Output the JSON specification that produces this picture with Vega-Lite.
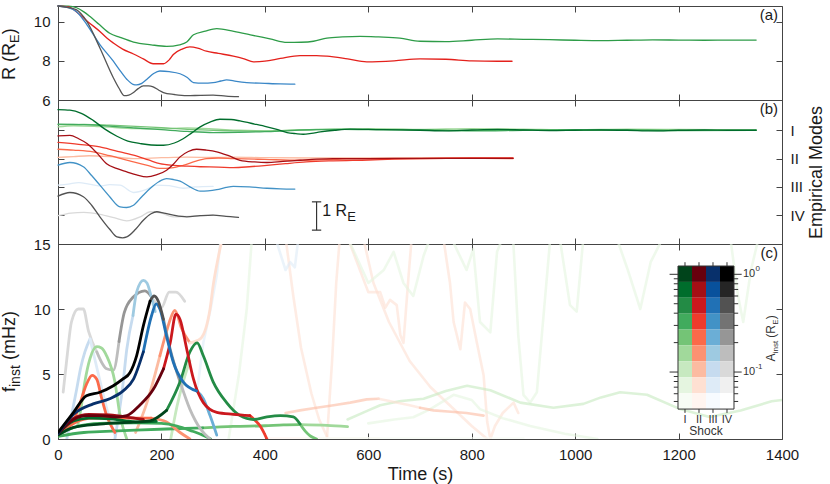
{
  "$schema": "https://vega.github.io/schema/vega-lite/v6.json",
  "background": "white",
  "padding": {"left": 0, "top": 4, "right": 0, "bottom": 0},
  "spacing": 0,
  "bounds": "flush",
  "config": {
    "font": "Liberation Sans",
    "view": {"stroke": "#444444", "strokeWidth": 1},
    "axis": {
      "domain": false, "grid": false, "tickSize": -6, "tickColor": "#444444", "tickWidth": 1,
      "labelFont": "Liberation Sans", "labelFontSize": 15, "labelColor": "#1a1a1a", "labelPadding": 14,
      "labelFlush": false, "labelOverlap": false,
      "titleFont": "Liberation Sans", "titleFontSize": 18, "titleFontWeight": "normal", "titleColor": "#1a1a1a"
    },
    "legend": {"disable": true},
    "text": {"font": "Liberation Sans", "color": "#1a1a1a"},
    "line": {"strokeCap": "round", "strokeJoin": "round"}
  },
  "datasets": {
    "radius": [
      {"c":"Ga","t":0,"r":10.8},{"c":"Ga","t":20,"r":10.79},{"c":"Ga","t":36,"r":10.71},{"c":"Ga","t":50,"r":10.5},{"c":"Ga","t":62,"r":10.26},{"c":"Ga","t":80,"r":9.85},{"c":"Ga","t":100,"r":9.41},{"c":"Ga","t":120,"r":9.2},{"c":"Ga","t":146,"r":8.96},{"c":"Ga","t":180,"r":8.82},{"c":"Ga","t":210,"r":8.74},{"c":"Ga","t":235,"r":8.82},{"c":"Ga","t":249,"r":8.96},{"c":"Ga","t":262,"r":9.33},{"c":"Ga","t":285,"r":9.52},{"c":"Ga","t":307,"r":9.64},{"c":"Ga","t":340,"r":9.5},{"c":"Ga","t":372,"r":9.33},{"c":"Ga","t":410,"r":9.12},{"c":"Ga","t":443,"r":8.94},{"c":"Ga","t":470,"r":8.95},{"c":"Ga","t":494,"r":9.0},{"c":"Ga","t":520,"r":9.16},{"c":"Ga","t":550,"r":9.22},{"c":"Ga","t":584,"r":9.25},{"c":"Ga","t":620,"r":9.22},{"c":"Ga","t":661,"r":9.16},{"c":"Ga","t":700,"r":9.0},{"c":"Ga","t":750,"r":8.98},{"c":"Ga","t":800,"r":9.05},{"c":"Ga","t":850,"r":9.12},{"c":"Ga","t":900,"r":9.1},{"c":"Ga","t":950,"r":9.08},{"c":"Ga","t":1000,"r":9.05},{"c":"Ga","t":1050,"r":9.03},{"c":"Ga","t":1100,"r":9.05},{"c":"Ga","t":1150,"r":9.07},{"c":"Ga","t":1200,"r":9.06},{"c":"Ga","t":1250,"r":9.05},{"c":"Ga","t":1300,"r":9.06},{"c":"Ga","t":1350,"r":9.06},
      {"c":"Ra","t":0,"r":10.8},{"c":"Ra","t":20,"r":10.75},{"c":"Ra","t":43,"r":10.34},{"c":"Ra","t":60,"r":9.95},{"c":"Ra","t":81,"r":9.5},{"c":"Ra","t":95,"r":9.15},{"c":"Ra","t":107,"r":8.91},{"c":"Ra","t":125,"r":8.6},{"c":"Ra","t":146,"r":8.35},{"c":"Ra","t":165,"r":8.1},{"c":"Ra","t":184,"r":7.85},{"c":"Ra","t":204,"r":7.85},{"c":"Ra","t":215,"r":8.05},{"c":"Ra","t":223,"r":8.32},{"c":"Ra","t":240,"r":8.6},{"c":"Ra","t":255,"r":8.71},{"c":"Ra","t":270,"r":8.65},{"c":"Ra","t":287,"r":8.49},{"c":"Ra","t":310,"r":8.38},{"c":"Ra","t":339,"r":8.24},{"c":"Ra","t":360,"r":8.1},{"c":"Ra","t":378,"r":7.95},{"c":"Ra","t":400,"r":7.98},{"c":"Ra","t":430,"r":8.12},{"c":"Ra","t":468,"r":8.27},{"c":"Ra","t":500,"r":8.27},{"c":"Ra","t":520,"r":8.24},{"c":"Ra","t":560,"r":8.1},{"c":"Ra","t":597,"r":7.95},{"c":"Ra","t":650,"r":8.0},{"c":"Ra","t":700,"r":8.1},{"c":"Ra","t":750,"r":8.08},{"c":"Ra","t":800,"r":8.0},{"c":"Ra","t":850,"r":7.98},{"c":"Ra","t":878,"r":7.98},
      {"c":"Ba","t":0,"r":10.8},{"c":"Ba","t":20,"r":10.72},{"c":"Ba","t":36,"r":10.51},{"c":"Ba","t":56,"r":9.84},{"c":"Ba","t":81,"r":8.83},{"c":"Ba","t":107,"r":7.98},{"c":"Ba","t":120,"r":7.5},{"c":"Ba","t":133,"r":7.06},{"c":"Ba","t":145,"r":6.8},{"c":"Ba","t":152,"r":6.77},{"c":"Ba","t":162,"r":6.85},{"c":"Ba","t":172,"r":7.06},{"c":"Ba","t":185,"r":7.35},{"c":"Ba","t":197,"r":7.48},{"c":"Ba","t":215,"r":7.45},{"c":"Ba","t":236,"r":7.34},{"c":"Ba","t":250,"r":7.15},{"c":"Ba","t":262,"r":6.89},{"c":"Ba","t":280,"r":6.86},{"c":"Ba","t":300,"r":6.89},{"c":"Ba","t":315,"r":6.97},{"c":"Ba","t":326,"r":7.03},{"c":"Ba","t":345,"r":6.95},{"c":"Ba","t":365,"r":6.89},{"c":"Ba","t":400,"r":6.85},{"c":"Ba","t":430,"r":6.82},{"c":"Ba","t":458,"r":6.81},
      {"c":"Ka","t":0,"r":10.8},{"c":"Ka","t":20,"r":10.72},{"c":"Ka","t":36,"r":10.6},{"c":"Ka","t":56,"r":10.0},{"c":"Ka","t":81,"r":8.66},{"c":"Ka","t":107,"r":7.14},{"c":"Ka","t":118,"r":6.6},{"c":"Ka","t":128,"r":6.22},{"c":"Ka","t":137,"r":6.25},{"c":"Ka","t":146,"r":6.38},{"c":"Ka","t":155,"r":6.58},{"c":"Ka","t":165,"r":6.72},{"c":"Ka","t":175,"r":6.72},{"c":"Ka","t":184,"r":6.67},{"c":"Ka","t":195,"r":6.5},{"c":"Ka","t":204,"r":6.38},{"c":"Ka","t":225,"r":6.28},{"c":"Ka","t":249,"r":6.22},{"c":"Ka","t":275,"r":6.24},{"c":"Ka","t":300,"r":6.25},{"c":"Ka","t":325,"r":6.2},{"c":"Ka","t":349,"r":6.17}
    ],
    "modes": [
      {"id":"m12","c":"K7","t":0,"y":-3.02},{"id":"m12","c":"K7","t":25,"y":-2.93},{"id":"m12","c":"K7","t":50,"y":-2.9},{"id":"m12","c":"K7","t":81,"y":-2.97},{"id":"m12","c":"K7","t":110,"y":-3.1},{"id":"m12","c":"K7","t":133,"y":-3.2},{"id":"m12","c":"K7","t":160,"y":-3.05},{"id":"m12","c":"K7","t":178,"y":-2.88},{"id":"m12","c":"K7","t":200,"y":-2.93},{"id":"m12","c":"K7","t":223,"y":-3.06},{"id":"m12","c":"K7","t":250,"y":-3.04},{"id":"m12","c":"K7","t":300,"y":-3.0},
      {"id":"m10","c":"B8","t":0,"y":-1.94},{"id":"m10","c":"B8","t":20,"y":-1.9},{"id":"m10","c":"B8","t":40,"y":-1.85},{"id":"m10","c":"B8","t":60,"y":-1.9},{"id":"m10","c":"B8","t":81,"y":-1.97},{"id":"m10","c":"B8","t":100,"y":-1.92},{"id":"m10","c":"B8","t":120,"y":-1.94},{"id":"m10","c":"B8","t":146,"y":-2.2},{"id":"m10","c":"B8","t":170,"y":-2.1},{"id":"m10","c":"B8","t":190,"y":-1.94},{"id":"m10","c":"B8","t":215,"y":-1.96},{"id":"m10","c":"B8","t":242,"y":-2.05},{"id":"m10","c":"B8","t":265,"y":-2.0},{"id":"m10","c":"B8","t":300,"y":-1.98},
      {"id":"m8","c":"R7","t":0,"y":-0.96},{"id":"m8","c":"R7","t":30,"y":-0.93},{"id":"m8","c":"R7","t":60,"y":-0.9},{"id":"m8","c":"R7","t":100,"y":-0.93},{"id":"m8","c":"R7","t":146,"y":-1.0},{"id":"m8","c":"R7","t":200,"y":-0.97},{"id":"m8","c":"R7","t":250,"y":-0.95},{"id":"m8","c":"R7","t":300,"y":-0.96},{"id":"m8","c":"R7","t":339,"y":-0.95},{"id":"m8","c":"R7","t":400,"y":-0.97},{"id":"m8","c":"R7","t":500,"y":-0.98},{"id":"m8","c":"R7","t":600,"y":-0.98},{"id":"m8","c":"R7","t":700,"y":-0.97},{"id":"m8","c":"R7","t":880,"y":-0.98},
      {"id":"m4","c":"G6","t":0,"y":0.12},{"id":"m4","c":"G6","t":30,"y":0.16},{"id":"m4","c":"G6","t":80,"y":0.13},{"id":"m4","c":"G6","t":150,"y":0.06},{"id":"m4","c":"G6","t":200,"y":0.05},{"id":"m4","c":"G6","t":250,"y":0.08},{"id":"m4","c":"G6","t":300,"y":0.05},{"id":"m4","c":"G6","t":350,"y":0.0},{"id":"m4","c":"G6","t":400,"y":-0.02},{"id":"m4","c":"G6","t":500,"y":0.02},{"id":"m4","c":"G6","t":600,"y":0.05},{"id":"m4","c":"G6","t":700,"y":0.03},{"id":"m4","c":"G6","t":800,"y":0.06},{"id":"m4","c":"G6","t":900,"y":0.04},{"id":"m4","c":"G6","t":1000,"y":0.02},{"id":"m4","c":"G6","t":1100,"y":0.04},{"id":"m4","c":"G6","t":1200,"y":0.03},{"id":"m4","c":"G6","t":1350,"y":0.01},
      {"id":"m3","c":"G5","t":0,"y":0.2},{"id":"m3","c":"G5","t":50,"y":0.21},{"id":"m3","c":"G5","t":100,"y":0.18},{"id":"m3","c":"G5","t":150,"y":0.14},{"id":"m3","c":"G5","t":200,"y":0.09},{"id":"m3","c":"G5","t":250,"y":0.03},{"id":"m3","c":"G5","t":300,"y":0.0},{"id":"m3","c":"G5","t":350,"y":-0.02},{"id":"m3","c":"G5","t":400,"y":-0.03},{"id":"m3","c":"G5","t":450,"y":0.0},{"id":"m3","c":"G5","t":500,"y":0.03},{"id":"m3","c":"G5","t":600,"y":0.04},{"id":"m3","c":"G5","t":700,"y":0.02},{"id":"m3","c":"G5","t":800,"y":0.0},{"id":"m3","c":"G5","t":900,"y":0.02},{"id":"m3","c":"G5","t":1000,"y":0.0},{"id":"m3","c":"G5","t":1100,"y":0.02},{"id":"m3","c":"G5","t":1200,"y":0.0},{"id":"m3","c":"G5","t":1350,"y":0.0},
      {"id":"m2","c":"G4","t":0,"y":0.22},{"id":"m2","c":"G4","t":50,"y":0.2},{"id":"m2","c":"G4","t":100,"y":0.15},{"id":"m2","c":"G4","t":150,"y":0.08},{"id":"m2","c":"G4","t":200,"y":0.02},{"id":"m2","c":"G4","t":250,"y":-0.04},{"id":"m2","c":"G4","t":300,"y":-0.08},{"id":"m2","c":"G4","t":350,"y":-0.07},{"id":"m2","c":"G4","t":400,"y":-0.05},{"id":"m2","c":"G4","t":450,"y":-0.01},{"id":"m2","c":"G4","t":500,"y":0.02},{"id":"m2","c":"G4","t":550,"y":0.03},{"id":"m2","c":"G4","t":600,"y":0.02},{"id":"m2","c":"G4","t":700,"y":0.01},{"id":"m2","c":"G4","t":800,"y":-0.02},{"id":"m2","c":"G4","t":900,"y":0.0},{"id":"m2","c":"G4","t":1000,"y":0.02},{"id":"m2","c":"G4","t":1100,"y":0.01},{"id":"m2","c":"G4","t":1200,"y":-0.01},{"id":"m2","c":"G4","t":1350,"y":0.0},
      {"id":"m7","c":"R5","t":0,"y":-0.67},{"id":"m7","c":"R5","t":30,"y":-0.7},{"id":"m7","c":"R5","t":68,"y":-0.76},{"id":"m7","c":"R5","t":100,"y":-0.9},{"id":"m7","c":"R5","t":146,"y":-1.12},{"id":"m7","c":"R5","t":175,"y":-1.25},{"id":"m7","c":"R5","t":197,"y":-1.35},{"id":"m7","c":"R5","t":220,"y":-1.33},{"id":"m7","c":"R5","t":242,"y":-1.24},{"id":"m7","c":"R5","t":265,"y":-1.1},{"id":"m7","c":"R5","t":287,"y":-1.0},{"id":"m7","c":"R5","t":310,"y":-0.98},{"id":"m7","c":"R5","t":339,"y":-1.0},{"id":"m7","c":"R5","t":400,"y":-1.03},{"id":"m7","c":"R5","t":468,"y":-1.06},{"id":"m7","c":"R5","t":520,"y":-1.04},{"id":"m7","c":"R5","t":600,"y":-1.0},{"id":"m7","c":"R5","t":700,"y":-1.0},{"id":"m7","c":"R5","t":800,"y":-0.99},{"id":"m7","c":"R5","t":880,"y":-1.0},
      {"id":"m6","c":"R4","t":0,"y":-0.43},{"id":"m6","c":"R4","t":40,"y":-0.5},{"id":"m6","c":"R4","t":81,"y":-0.59},{"id":"m6","c":"R4","t":110,"y":-0.72},{"id":"m6","c":"R4","t":146,"y":-0.88},{"id":"m6","c":"R4","t":175,"y":-1.05},{"id":"m6","c":"R4","t":197,"y":-1.18},{"id":"m6","c":"R4","t":223,"y":-1.24},{"id":"m6","c":"R4","t":250,"y":-1.27},{"id":"m6","c":"R4","t":275,"y":-1.29},{"id":"m6","c":"R4","t":310,"y":-1.3},{"id":"m6","c":"R4","t":339,"y":-1.32},{"id":"m6","c":"R4","t":370,"y":-1.29},{"id":"m6","c":"R4","t":404,"y":-1.24},{"id":"m6","c":"R4","t":440,"y":-1.18},{"id":"m6","c":"R4","t":480,"y":-1.12},{"id":"m6","c":"R4","t":532,"y":-1.08},{"id":"m6","c":"R4","t":600,"y":-1.05},{"id":"m6","c":"R4","t":650,"y":-1.02},{"id":"m6","c":"R4","t":700,"y":-1.0},{"id":"m6","c":"R4","t":800,"y":-0.98},{"id":"m6","c":"R4","t":880,"y":-0.98},
      {"id":"m5","c":"R2","t":0,"y":-0.2},{"id":"m5","c":"R2","t":23,"y":-0.18},{"id":"m5","c":"R2","t":40,"y":-0.3},{"id":"m5","c":"R2","t":56,"y":-0.47},{"id":"m5","c":"R2","t":75,"y":-0.8},{"id":"m5","c":"R2","t":94,"y":-1.18},{"id":"m5","c":"R2","t":113,"y":-1.35},{"id":"m5","c":"R2","t":133,"y":-1.47},{"id":"m5","c":"R2","t":152,"y":-1.58},{"id":"m5","c":"R2","t":172,"y":-1.65},{"id":"m5","c":"R2","t":190,"y":-1.58},{"id":"m5","c":"R2","t":210,"y":-1.41},{"id":"m5","c":"R2","t":223,"y":-1.2},{"id":"m5","c":"R2","t":236,"y":-0.94},{"id":"m5","c":"R2","t":252,"y":-0.75},{"id":"m5","c":"R2","t":268,"y":-0.67},{"id":"m5","c":"R2","t":287,"y":-0.7},{"id":"m5","c":"R2","t":307,"y":-0.76},{"id":"m5","c":"R2","t":330,"y":-0.9},{"id":"m5","c":"R2","t":352,"y":-1.06},{"id":"m5","c":"R2","t":380,"y":-1.12},{"id":"m5","c":"R2","t":404,"y":-1.14},{"id":"m5","c":"R2","t":435,"y":-1.1},{"id":"m5","c":"R2","t":468,"y":-1.06},{"id":"m5","c":"R2","t":500,"y":-1.02},{"id":"m5","c":"R2","t":532,"y":-1.0},{"id":"m5","c":"R2","t":600,"y":-1.0},{"id":"m5","c":"R2","t":700,"y":-0.99},{"id":"m5","c":"R2","t":800,"y":-0.99},{"id":"m5","c":"R2","t":880,"y":-0.99},
      {"id":"m1","c":"G2","t":0,"y":0.73},{"id":"m1","c":"G2","t":23,"y":0.71},{"id":"m1","c":"G2","t":45,"y":0.6},{"id":"m1","c":"G2","t":68,"y":0.35},{"id":"m1","c":"G2","t":90,"y":0.05},{"id":"m1","c":"G2","t":114,"y":-0.21},{"id":"m1","c":"G2","t":135,"y":-0.38},{"id":"m1","c":"G2","t":159,"y":-0.47},{"id":"m1","c":"G2","t":180,"y":-0.52},{"id":"m1","c":"G2","t":204,"y":-0.53},{"id":"m1","c":"G2","t":225,"y":-0.45},{"id":"m1","c":"G2","t":242,"y":-0.3},{"id":"m1","c":"G2","t":258,"y":-0.1},{"id":"m1","c":"G2","t":275,"y":0.12},{"id":"m1","c":"G2","t":295,"y":0.3},{"id":"m1","c":"G2","t":313,"y":0.39},{"id":"m1","c":"G2","t":335,"y":0.38},{"id":"m1","c":"G2","t":352,"y":0.33},{"id":"m1","c":"G2","t":380,"y":0.22},{"id":"m1","c":"G2","t":404,"y":0.12},{"id":"m1","c":"G2","t":425,"y":0.02},{"id":"m1","c":"G2","t":443,"y":-0.08},{"id":"m1","c":"G2","t":460,"y":-0.12},{"id":"m1","c":"G2","t":474,"y":-0.14},{"id":"m1","c":"G2","t":490,"y":-0.11},{"id":"m1","c":"G2","t":507,"y":-0.06},{"id":"m1","c":"G2","t":535,"y":0.0},{"id":"m1","c":"G2","t":565,"y":0.04},{"id":"m1","c":"G2","t":600,"y":0.03},{"id":"m1","c":"G2","t":630,"y":0.02},{"id":"m1","c":"G2","t":700,"y":0.0},{"id":"m1","c":"G2","t":750,"y":-0.02},{"id":"m1","c":"G2","t":800,"y":0.01},{"id":"m1","c":"G2","t":850,"y":0.03},{"id":"m1","c":"G2","t":900,"y":0.01},{"id":"m1","c":"G2","t":950,"y":-0.01},{"id":"m1","c":"G2","t":1000,"y":0.0},{"id":"m1","c":"G2","t":1050,"y":0.01},{"id":"m1","c":"G2","t":1100,"y":0.0},{"id":"m1","c":"G2","t":1150,"y":-0.02},{"id":"m1","c":"G2","t":1200,"y":0.0},{"id":"m1","c":"G2","t":1250,"y":0.01},{"id":"m1","c":"G2","t":1300,"y":0.0},{"id":"m1","c":"G2","t":1350,"y":0.0},
      {"id":"m9","c":"B4","t":0,"y":-1.23},{"id":"m9","c":"B4","t":23,"y":-1.14},{"id":"m9","c":"B4","t":49,"y":-1.29},{"id":"m9","c":"B4","t":65,"y":-1.6},{"id":"m9","c":"B4","t":81,"y":-1.94},{"id":"m9","c":"B4","t":100,"y":-2.35},{"id":"m9","c":"B4","t":120,"y":-2.71},{"id":"m9","c":"B4","t":133,"y":-2.73},{"id":"m9","c":"B4","t":146,"y":-2.65},{"id":"m9","c":"B4","t":162,"y":-2.35},{"id":"m9","c":"B4","t":178,"y":-2.06},{"id":"m9","c":"B4","t":195,"y":-1.82},{"id":"m9","c":"B4","t":210,"y":-1.71},{"id":"m9","c":"B4","t":223,"y":-1.74},{"id":"m9","c":"B4","t":236,"y":-1.8},{"id":"m9","c":"B4","t":255,"y":-2.0},{"id":"m9","c":"B4","t":275,"y":-2.15},{"id":"m9","c":"B4","t":290,"y":-2.14},{"id":"m9","c":"B4","t":307,"y":-2.1},{"id":"m9","c":"B4","t":325,"y":-2.02},{"id":"m9","c":"B4","t":339,"y":-1.98},{"id":"m9","c":"B4","t":370,"y":-2.0},{"id":"m9","c":"B4","t":404,"y":-2.05},{"id":"m9","c":"B4","t":430,"y":-2.07},{"id":"m9","c":"B4","t":458,"y":-2.08},
      {"id":"m11","c":"K3","t":0,"y":-2.33},{"id":"m11","c":"K3","t":23,"y":-2.2},{"id":"m11","c":"K3","t":49,"y":-2.35},{"id":"m11","c":"K3","t":65,"y":-2.65},{"id":"m11","c":"K3","t":81,"y":-3.06},{"id":"m11","c":"K3","t":100,"y":-3.5},{"id":"m11","c":"K3","t":114,"y":-3.77},{"id":"m11","c":"K3","t":125,"y":-3.8},{"id":"m11","c":"K3","t":133,"y":-3.77},{"id":"m11","c":"K3","t":150,"y":-3.5},{"id":"m11","c":"K3","t":165,"y":-3.18},{"id":"m11","c":"K3","t":180,"y":-2.95},{"id":"m11","c":"K3","t":191,"y":-2.88},{"id":"m11","c":"K3","t":205,"y":-2.93},{"id":"m11","c":"K3","t":223,"y":-3.0},{"id":"m11","c":"K3","t":249,"y":-3.06},{"id":"m11","c":"K3","t":275,"y":-3.02},{"id":"m11","c":"K3","t":300,"y":-3.0},{"id":"m11","c":"K3","t":325,"y":-3.04},{"id":"m11","c":"K3","t":349,"y":-3.08}
    ],
    "faint": [
      {"id":"fs2a","c":"R8","t":440,"f":15.5},{"id":"fs2a","c":"R8","t":455,"f":11},{"id":"fs2a","c":"R8","t":470,"f":7},{"id":"fs2a","c":"R8","t":490,"f":3.5},{"id":"fs2a","c":"R8","t":505,"f":1.5},{"id":"fs2a","c":"R8","t":520,"f":0.2},
      {"id":"fs2b","c":"R8","t":520,"f":0},{"id":"fs2b","c":"R8","t":530,"f":6},{"id":"fs2b","c":"R8","t":538,"f":12},{"id":"fs2b","c":"R8","t":545,"f":15.5},
      {"id":"fs3","c":"R8","t":560,"f":15.5},{"id":"fs3","c":"R8","t":600,"f":11.3},{"id":"fs3","c":"R8","t":623,"f":11.3},{"id":"fs3","c":"R8","t":633,"f":10.1},{"id":"fs3","c":"R8","t":642,"f":10.7},{"id":"fs3","c":"R8","t":655,"f":10.3},{"id":"fs3","c":"R8","t":662,"f":8.0},{"id":"fs3","c":"R8","t":668,"f":7.4},{"id":"fs3","c":"R8","t":678,"f":12.6},{"id":"fs3","c":"R8","t":684,"f":15.5},
      {"id":"fs4","c":"R8","t":745,"f":15.5},{"id":"fs4","c":"R8","t":752,"f":13.6},{"id":"fs4","c":"R8","t":758,"f":12},{"id":"fs4","c":"R8","t":765,"f":9},{"id":"fs4","c":"R8","t":778,"f":6.9},{"id":"fs4","c":"R8","t":787,"f":10.5},{"id":"fs4","c":"R8","t":797,"f":10.0},{"id":"fs4","c":"R8","t":810,"f":7.4},{"id":"fs4","c":"R8","t":823,"f":4.9},{"id":"fs4","c":"R8","t":830,"f":1.3},{"id":"fs4","c":"R8","t":836,"f":0},{"id":"fs4","c":"R8","t":845,"f":1.0},{"id":"fs4","c":"R8","t":860,"f":2.0},{"id":"fs4","c":"R8","t":881,"f":2.8},{"id":"fs4","c":"R8","t":890,"f":2.0},
      {"id":"fs5","c":"R8","t":590,"f":15.5},{"id":"fs5","c":"R8","t":610,"f":12},{"id":"fs5","c":"R8","t":640,"f":9},{"id":"fs5","c":"R8","t":680,"f":6},{"id":"fs5","c":"R8","t":720,"f":4},{"id":"fs5","c":"R8","t":760,"f":2.5},{"id":"fs5","c":"R8","t":800,"f":1.0},{"id":"fs5","c":"R8","t":830,"f":0},
      {"id":"fs9","c":"R9","t":404,"f":0.05},{"id":"fs9","c":"R9","t":620,"f":0.05},
      {"id":"fg9","c":"G9","t":480,"f":0.05},{"id":"fg9","c":"G9","t":900,"f":0.05},
      {"id":"fg2","c":"G8","t":600,"f":1.2},{"id":"fg2","c":"G8","t":650,"f":1.5},{"id":"fg2","c":"G8","t":687,"f":1.67},{"id":"fg2","c":"G8","t":720,"f":2.3},{"id":"fg2","c":"G8","t":765,"f":3.4},{"id":"fg2","c":"G8","t":800,"f":3.0},{"id":"fg2","c":"G8","t":816,"f":2.3},{"id":"fg2","c":"G8","t":860,"f":1.6},{"id":"fg2","c":"G8","t":913,"f":1.0},{"id":"fg2","c":"G8","t":980,"f":0.4},{"id":"fg2","c":"G8","t":1043,"f":0},
      {"id":"fg3","c":"G8","t":560,"f":15.5},{"id":"fg3","c":"G8","t":600,"f":12},{"id":"fg3","c":"G8","t":630,"f":13},{"id":"fg3","c":"G8","t":649,"f":14.4},{"id":"fg3","c":"G8","t":668,"f":12},{"id":"fg3","c":"G8","t":687,"f":11.0},{"id":"fg3","c":"G8","t":707,"f":14.1},{"id":"fg3","c":"G8","t":720,"f":15.5},
      {"id":"fg4","c":"G8","t":760,"f":15.5},{"id":"fg4","c":"G8","t":790,"f":13},{"id":"fg4","c":"G8","t":803,"f":14.6},{"id":"fg4","c":"G8","t":816,"f":9.0},{"id":"fg4","c":"G8","t":836,"f":8.2},{"id":"fg4","c":"G8","t":849,"f":14.4},{"id":"fg4","c":"G8","t":860,"f":15.5},
      {"id":"fg5","c":"G8","t":880,"f":15.5},{"id":"fg5","c":"G8","t":890,"f":8},{"id":"fg5","c":"G8","t":900,"f":3.4},{"id":"fg5","c":"G8","t":913,"f":2.8},{"id":"fg5","c":"G8","t":926,"f":3.6},{"id":"fg5","c":"G8","t":940,"f":10},{"id":"fg5","c":"G8","t":952,"f":15.5},
      {"id":"fg6","c":"G8","t":970,"f":15.5},{"id":"fg6","c":"G8","t":990,"f":10.3},{"id":"fg6","c":"G8","t":1003,"f":9.8},{"id":"fg6","c":"G8","t":1016,"f":15.5},
      {"id":"fg7","c":"G8","t":1080,"f":15.5},{"id":"fg7","c":"G8","t":1101,"f":13.1},{"id":"fg7","c":"G8","t":1126,"f":10.0},{"id":"fg7","c":"G8","t":1146,"f":13.6},{"id":"fg7","c":"G8","t":1170,"f":15.5},
      {"id":"fg8","c":"G8","t":1300,"f":15.5},{"id":"fg8","c":"G8","t":1315,"f":11},{"id":"fg8","c":"G8","t":1325,"f":9},{"id":"fg8","c":"G8","t":1340,"f":13},{"id":"fg8","c":"G8","t":1355,"f":15.5},
      {"id":"fg10","c":"G8","t":330,"f":0},{"id":"fg10","c":"G8","t":350,"f":5},{"id":"fg10","c":"G8","t":365,"f":10},{"id":"fg10","c":"G8","t":375,"f":15.5},
      {"id":"fb1","c":"B8","t":270,"f":4},{"id":"fb1","c":"B8","t":281,"f":7.4},{"id":"fb1","c":"B8","t":295,"f":10},{"id":"fb1","c":"B8","t":307,"f":12.6},{"id":"fb1","c":"B8","t":315,"f":15.5},
      {"id":"fb2","c":"B8","t":420,"f":15.5},{"id":"fb2","c":"B8","t":440,"f":13},{"id":"fb2","c":"B8","t":449,"f":13.6},{"id":"fb2","c":"B8","t":458,"f":13.2},{"id":"fb2","c":"B8","t":465,"f":15.5},
      {"id":"fg1","c":"G7","t":560,"f":1.5},{"id":"fg1","c":"G7","t":600,"f":2.2},{"id":"fg1","c":"G7","t":623,"f":2.6},{"id":"fg1","c":"G7","t":660,"f":2.9},{"id":"fg1","c":"G7","t":707,"f":3.1},{"id":"fg1","c":"G7","t":750,"f":3.7},{"id":"fg1","c":"G7","t":791,"f":4.1},{"id":"fg1","c":"G7","t":836,"f":3.75},{"id":"fg1","c":"G7","t":894,"f":2.8},{"id":"fg1","c":"G7","t":958,"f":2.4},{"id":"fg1","c":"G7","t":1016,"f":2.7},{"id":"fg1","c":"G7","t":1050,"f":3.2},{"id":"fg1","c":"G7","t":1087,"f":3.6},{"id":"fg1","c":"G7","t":1139,"f":3.4},{"id":"fg1","c":"G7","t":1203,"f":2.3},{"id":"fg1","c":"G7","t":1260,"f":1.7},{"id":"fg1","c":"G7","t":1320,"f":2.2},{"id":"fg1","c":"G7","t":1380,"f":2.9},{"id":"fg1","c":"G7","t":1400,"f":3.0},
      {"id":"fs6","c":"R7","t":440,"f":2.0},{"id":"fs6","c":"R7","t":468,"f":2.2},{"id":"fs6","c":"R7","t":500,"f":2.4},{"id":"fs6","c":"R7","t":533,"f":2.6},{"id":"fs6","c":"R7","t":565,"f":2.8},{"id":"fs6","c":"R7","t":597,"f":3.05},{"id":"fs6","c":"R7","t":620,"f":3.1},
      {"id":"fs7","c":"R8","t":620,"f":3.1},{"id":"fs7","c":"R8","t":680,"f":2.6},{"id":"fs7","c":"R8","t":700,"f":2.4},
      {"id":"fs8","c":"R7","t":700,"f":2.4},{"id":"fs8","c":"R7","t":726,"f":2.2},{"id":"fs8","c":"R7","t":760,"f":2.1},{"id":"fs8","c":"R7","t":790,"f":2.0},{"id":"fs8","c":"R7","t":823,"f":1.8}
    ],
    "finst": [
      {"id":"kg1","c":"K7","t":10,"f":3.6},{"id":"kg1","c":"K7","t":18,"f":6.5},{"id":"kg1","c":"K7","t":26,"f":9.0},{"id":"kg1","c":"K7","t":39,"f":10.0},{"id":"kg1","c":"K7","t":49,"f":10.0},{"id":"kg1","c":"K7","t":59,"f":8.3},{"id":"kg1","c":"K7","t":75,"f":6.7},
      {"id":"kg2","c":"K6","t":75,"f":6.7},{"id":"kg2","c":"K6","t":94,"f":5.4},{"id":"kg2","c":"K6","t":107,"f":5.3},{"id":"kg2","c":"K6","t":118,"f":7.5},
      {"id":"kg3","c":"K5","t":118,"f":7.5},{"id":"kg3","c":"K5","t":128,"f":9.7},{"id":"kg3","c":"K5","t":145,"f":10.9},{"id":"kg3","c":"K5","t":168,"f":11.4},{"id":"kg3","c":"K5","t":183,"f":10.8},
      {"id":"kg4","c":"K7","t":183,"f":10.8},{"id":"kg4","c":"K7","t":200,"f":10.1},{"id":"kg4","c":"K7","t":215,"f":11.3},{"id":"kg4","c":"K7","t":228,"f":11.3},{"id":"kg4","c":"K7","t":245,"f":10.6},
      {"id":"lb1","c":"B7","t":17,"f":0},{"id":"lb1","c":"B7","t":27,"f":2.0},{"id":"lb1","c":"B7","t":36,"f":3.8},{"id":"lb1","c":"B7","t":44,"f":5.5},{"id":"lb1","c":"B7","t":52,"f":6.7},{"id":"lb1","c":"B7","t":62,"f":7.7},
      {"id":"lb2","c":"B8","t":62,"f":7.7},{"id":"lb2","c":"B8","t":75,"f":5.5},{"id":"lb2","c":"B8","t":90,"f":3.0},{"id":"lb2","c":"B8","t":100,"f":1.5},{"id":"lb2","c":"B8","t":110,"f":0.3},
      {"id":"lb3","c":"B7","t":110,"f":0},{"id":"lb3","c":"B7","t":125,"f":4.0},{"id":"lb3","c":"B7","t":133,"f":6.9},{"id":"lb3","c":"B7","t":145,"f":9.5},
      {"id":"lb4","c":"B6","t":145,"f":9.5},{"id":"lb4","c":"B6","t":152,"f":11.3},{"id":"lb4","c":"B6","t":165,"f":12.2},{"id":"lb4","c":"B6","t":172,"f":12.0},{"id":"lb4","c":"B6","t":180,"f":11.0},{"id":"lb4","c":"B6","t":188,"f":9.8},
      {"id":"bs1","c":"R7","t":150,"f":0.5},{"id":"bs1","c":"R7","t":172,"f":2.8},{"id":"bs1","c":"R7","t":197,"f":6.4},
      {"id":"bs2","c":"R6","t":197,"f":6.4},{"id":"bs2","c":"R6","t":210,"f":8.3},{"id":"bs2","c":"R6","t":217,"f":9.2},{"id":"bs2","c":"R6","t":226,"f":9.9},{"id":"bs2","c":"R6","t":239,"f":8.5},{"id":"bs2","c":"R6","t":255,"f":7.4},
      {"id":"bs3","c":"R8","t":255,"f":7.4},{"id":"bs3","c":"R8","t":275,"f":7.7},{"id":"bs3","c":"R8","t":294,"f":10.0},{"id":"bs3","c":"R8","t":300,"f":11.8},{"id":"bs3","c":"R8","t":310,"f":14.0},{"id":"bs3","c":"R8","t":318,"f":15.5},
      {"id":"g6","c":"G6","t":38,"f":1.0},{"id":"g6","c":"G6","t":45,"f":2.5},{"id":"g6","c":"G6","t":52,"f":4.4},{"id":"g6","c":"G6","t":62,"f":6.2},{"id":"g6","c":"G6","t":75,"f":7.1},{"id":"g6","c":"G6","t":84,"f":7.0},{"id":"g6","c":"G6","t":94,"f":6.4},{"id":"g6","c":"G6","t":110,"f":4.4},{"id":"g6","c":"G6","t":120,"f":1.8},{"id":"g6","c":"G6","t":133,"f":0},
      {"id":"g7","c":"G7","t":218,"f":0},{"id":"g7","c":"G7","t":230,"f":2.5},{"id":"g7","c":"G7","t":242,"f":4.4},{"id":"g7","c":"G7","t":255,"f":6.0},
      {"id":"gf3","c":"G6","t":468,"f":1.1},{"id":"gf3","c":"G6","t":520,"f":1.05},{"id":"gf3","c":"G6","t":560,"f":0.95},
      {"id":"gf2","c":"G5","t":280,"f":0.85},{"id":"gf2","c":"G5","t":339,"f":0.97},{"id":"gf2","c":"G5","t":400,"f":1.02},{"id":"gf2","c":"G5","t":436,"f":1.08},{"id":"gf2","c":"G5","t":468,"f":1.1},
      {"id":"gf1","c":"G4","t":0,"f":0.2},{"id":"gf1","c":"G4","t":50,"f":0.5},{"id":"gf1","c":"G4","t":81,"f":0.56},{"id":"gf1","c":"G4","t":150,"f":0.68},{"id":"gf1","c":"G4","t":210,"f":0.77},{"id":"gf1","c":"G4","t":280,"f":0.85},
      {"id":"s3","c":"R5","t":30,"f":1.3},{"id":"s3","c":"R5","t":43,"f":2.8},{"id":"s3","c":"R5","t":55,"f":4.2},{"id":"s3","c":"R5","t":66,"f":4.9},{"id":"s3","c":"R5","t":75,"f":4.6},{"id":"s3","c":"R5","t":84,"f":3.2},{"id":"s3","c":"R5","t":94,"f":1.8},{"id":"s3","c":"R5","t":110,"f":0.5},
      {"id":"s2","c":"R6","t":180,"f":1.6},{"id":"s2","c":"R6","t":210,"f":1.3},{"id":"s2","c":"R6","t":236,"f":0.5},{"id":"s2","c":"R6","t":255,"f":0},
      {"id":"s1","c":"R5","t":0,"f":0.3},{"id":"s1","c":"R5","t":30,"f":1.2},{"id":"s1","c":"R5","t":68,"f":1.6},{"id":"s1","c":"R5","t":130,"f":1.6},{"id":"s1","c":"R5","t":180,"f":1.6},
      {"id":"g5","c":"G4","t":0,"f":0.3},{"id":"g5","c":"G4","t":40,"f":1.0},{"id":"g5","c":"G4","t":81,"f":1.2},{"id":"g5","c":"G4","t":150,"f":1.25},{"id":"g5","c":"G4","t":200,"f":1.2},{"id":"g5","c":"G4","t":230,"f":1.0},{"id":"g5","c":"G4","t":260,"f":0.6},{"id":"g5","c":"G4","t":280,"f":0.3},{"id":"g5","c":"G4","t":295,"f":0},
      {"id":"k4","c":"K6","t":236,"f":4.4},{"id":"k4","c":"K6","t":255,"f":2.3},{"id":"k4","c":"K6","t":275,"f":0.8},{"id":"k4","c":"K6","t":294,"f":0},
      {"id":"k3","c":"K5","t":204,"f":9.2},{"id":"k3","c":"K5","t":217,"f":6.9},{"id":"k3","c":"K5","t":236,"f":4.4},
      {"id":"b3","c":"B5","t":268,"f":3.7},{"id":"b3","c":"B5","t":281,"f":3.1},{"id":"b3","c":"B5","t":294,"f":1.8},{"id":"b3","c":"B5","t":307,"f":0.3},
      {"id":"r3","c":"R4","t":371,"f":1.8},{"id":"r3","c":"R4","t":382,"f":1.4},{"id":"r3","c":"R4","t":391,"f":1.0},{"id":"r3","c":"R4","t":404,"f":0},
      {"id":"g3","c":"G5","t":468,"f":1.15},{"id":"g3","c":"G5","t":478,"f":0.6},{"id":"g3","c":"G5","t":487,"f":0.26},{"id":"g3","c":"G5","t":500,"f":0},
      {"id":"g2","c":"G3","t":210,"f":2.2},{"id":"g2","c":"G3","t":236,"f":4.4},{"id":"g2","c":"G3","t":255,"f":6.7},{"id":"g2","c":"G3","t":269,"f":7.4},{"id":"g2","c":"G3","t":281,"f":6.4},{"id":"g2","c":"G3","t":300,"f":4.4},{"id":"g2","c":"G3","t":326,"f":2.8},{"id":"g2","c":"G3","t":352,"f":1.8},{"id":"g2","c":"G3","t":378,"f":1.5},{"id":"g2","c":"G3","t":404,"f":1.7},{"id":"g2","c":"G3","t":430,"f":1.8},{"id":"g2","c":"G3","t":455,"f":1.7},{"id":"g2","c":"G3","t":468,"f":1.15},
      {"id":"r2","c":"R3","t":204,"f":5.4},{"id":"r2","c":"R3","t":217,"f":7.4},{"id":"r2","c":"R3","t":228,"f":9.6},{"id":"r2","c":"R3","t":236,"f":9.2},{"id":"r2","c":"R3","t":249,"f":6.9},{"id":"r2","c":"R3","t":262,"f":4.6},{"id":"r2","c":"R3","t":281,"f":2.8},{"id":"r2","c":"R3","t":307,"f":2.05},{"id":"r2","c":"R3","t":339,"f":1.9},{"id":"r2","c":"R3","t":371,"f":1.8},
      {"id":"b2","c":"B3","t":165,"f":6.7},{"id":"b2","c":"B3","t":181,"f":9.5},{"id":"b2","c":"B3","t":190,"f":10.4},{"id":"b2","c":"B3","t":197,"f":10.0},{"id":"b2","c":"B3","t":210,"f":7.9},{"id":"b2","c":"B3","t":223,"f":5.9},{"id":"b2","c":"B3","t":242,"f":4.4},{"id":"b2","c":"B3","t":268,"f":3.7},
      {"id":"k2","c":"K3","t":178,"f":10.6},{"id":"k2","c":"K3","t":186,"f":11.0},{"id":"k2","c":"K3","t":194,"f":10.6},{"id":"k2","c":"K3","t":204,"f":9.2},
      {"id":"g4","c":"G2","t":0,"f":0.4},{"id":"g4","c":"G2","t":30,"f":1.4},{"id":"g4","c":"G2","t":60,"f":1.6},{"id":"g4","c":"G2","t":100,"f":1.55},{"id":"g4","c":"G2","t":130,"f":1.4},{"id":"g4","c":"G2","t":160,"f":1.3},{"id":"g4","c":"G2","t":190,"f":1.35},
      {"id":"r4","c":"R2","t":0,"f":0.4},{"id":"r4","c":"R2","t":30,"f":1.6},{"id":"r4","c":"R2","t":60,"f":1.9},{"id":"r4","c":"R2","t":100,"f":1.85},{"id":"r4","c":"R2","t":140,"f":1.65},{"id":"r4","c":"R2","t":165,"f":1.5},
      {"id":"g1","c":"G1","t":0,"f":0.3},{"id":"g1","c":"G1","t":30,"f":0.9},{"id":"g1","c":"G1","t":81,"f":1.15},{"id":"g1","c":"G1","t":146,"f":1.3},{"id":"g1","c":"G1","t":178,"f":1.4},{"id":"g1","c":"G1","t":210,"f":2.2},
      {"id":"r1","c":"R1","t":0,"f":0.4},{"id":"r1","c":"R1","t":30,"f":1.5},{"id":"r1","c":"R1","t":55,"f":1.8},{"id":"r1","c":"R1","t":81,"f":1.8},{"id":"r1","c":"R1","t":113,"f":1.7},{"id":"r1","c":"R1","t":133,"f":1.8},{"id":"r1","c":"R1","t":158,"f":2.6},{"id":"r1","c":"R1","t":184,"f":3.8},{"id":"r1","c":"R1","t":204,"f":5.4},
      {"id":"b1","c":"B1","t":0,"f":0.4},{"id":"b1","c":"B1","t":30,"f":1.9},{"id":"b1","c":"B1","t":68,"f":2.7},{"id":"b1","c":"B1","t":100,"f":3.1},{"id":"b1","c":"B1","t":126,"f":3.7},{"id":"b1","c":"B1","t":146,"f":4.6},{"id":"b1","c":"B1","t":165,"f":6.7},
      {"id":"k1","c":"K1","t":0,"f":0.5},{"id":"k1","c":"K1","t":30,"f":2.05},{"id":"k1","c":"K1","t":55,"f":3.33},{"id":"k1","c":"K1","t":81,"f":3.6},{"id":"k1","c":"K1","t":107,"f":4.1},{"id":"k1","c":"K1","t":125,"f":4.6},{"id":"k1","c":"K1","t":139,"f":5.1},{"id":"k1","c":"K1","t":152,"f":6.4},{"id":"k1","c":"K1","t":165,"f":8.7},{"id":"k1","c":"K1","t":178,"f":10.6}
    ],
    "legend": [
      {"c":"G1","i0":0,"i1":1,"a0":0.8356,"a1":1.216},{"c":"G2","i0":0,"i1":1,"a0":0.5754,"a1":0.8356},{"c":"G3","i0":0,"i1":1,"a0":0.3953,"a1":0.5754},{"c":"G4","i0":0,"i1":1,"a0":0.2718,"a1":0.3953},{"c":"G5","i0":0,"i1":1,"a0":0.187,"a1":0.2718},{"c":"G6","i0":0,"i1":1,"a0":0.1285,"a1":0.187},{"c":"G7","i0":0,"i1":1,"a0":0.0883,"a1":0.1285},{"c":"G8","i0":0,"i1":1,"a0":0.0608,"a1":0.0883},{"c":"G9","i0":0,"i1":1,"a0":0.0418,"a1":0.0608},
      {"c":"R1","i0":1,"i1":2,"a0":0.8356,"a1":1.216},{"c":"R2","i0":1,"i1":2,"a0":0.5754,"a1":0.8356},{"c":"R3","i0":1,"i1":2,"a0":0.3953,"a1":0.5754},{"c":"R4","i0":1,"i1":2,"a0":0.2718,"a1":0.3953},{"c":"R5","i0":1,"i1":2,"a0":0.187,"a1":0.2718},{"c":"R6","i0":1,"i1":2,"a0":0.1285,"a1":0.187},{"c":"R7","i0":1,"i1":2,"a0":0.0883,"a1":0.1285},{"c":"R8","i0":1,"i1":2,"a0":0.0608,"a1":0.0883},{"c":"R9","i0":1,"i1":2,"a0":0.0418,"a1":0.0608},
      {"c":"B1","i0":2,"i1":3,"a0":0.8356,"a1":1.216},{"c":"B2","i0":2,"i1":3,"a0":0.5754,"a1":0.8356},{"c":"B3","i0":2,"i1":3,"a0":0.3953,"a1":0.5754},{"c":"B4","i0":2,"i1":3,"a0":0.2718,"a1":0.3953},{"c":"B5","i0":2,"i1":3,"a0":0.187,"a1":0.2718},{"c":"B6","i0":2,"i1":3,"a0":0.1285,"a1":0.187},{"c":"B7","i0":2,"i1":3,"a0":0.0883,"a1":0.1285},{"c":"B8","i0":2,"i1":3,"a0":0.0608,"a1":0.0883},{"c":"B9","i0":2,"i1":3,"a0":0.0418,"a1":0.0608},
      {"c":"K1","i0":3,"i1":4,"a0":0.8356,"a1":1.216},{"c":"K2","i0":3,"i1":4,"a0":0.5754,"a1":0.8356},{"c":"K3","i0":3,"i1":4,"a0":0.3953,"a1":0.5754},{"c":"K4","i0":3,"i1":4,"a0":0.2718,"a1":0.3953},{"c":"K5","i0":3,"i1":4,"a0":0.187,"a1":0.2718},{"c":"K6","i0":3,"i1":4,"a0":0.1285,"a1":0.187},{"c":"K7","i0":3,"i1":4,"a0":0.0883,"a1":0.1285},{"c":"K8","i0":3,"i1":4,"a0":0.0608,"a1":0.0883},{"c":"K9","i0":3,"i1":4,"a0":0.0418,"a1":0.0608}
    ],
    "lticks": [
      {"a":0.05,"kind":"minor"},{"a":0.06,"kind":"minor"},{"a":0.07,"kind":"minor"},{"a":0.08,"kind":"minor"},{"a":0.09,"kind":"minor"},{"a":0.1,"kind":"major"},{"a":0.2,"kind":"minor"},{"a":0.3,"kind":"minor"},{"a":0.4,"kind":"minor"},{"a":0.5,"kind":"minor"},{"a":0.6,"kind":"minor"},{"a":0.7,"kind":"minor"},{"a":0.8,"kind":"minor"},{"a":0.9,"kind":"minor"},{"a":1.0,"kind":"major"}
    ],
    "lcols": [
      {"shock":"I","pos":0.5},{"shock":"II","pos":1.5},{"shock":"III","pos":2.5},{"shock":"IV","pos":3.5}
    ]
  },
  "vconcat": [
    {
      "width": 724,
      "height": 94,
      "layer": [
        {
          "data": {"name": "radius"},
          "mark": {"type": "line", "strokeWidth": 1.3, "interpolate": "monotone"},
          "encoding": {
            "x": {"field": "t", "type": "quantitative", "scale": {"domain": [0, 1400], "nice": false, "zero": false}, "axis": {"orient": "bottom", "values": [0, 200, 400, 600, 800, 1000, 1200, 1400], "labels": false, "title": null}},
            "y": {"field": "r", "type": "quantitative", "scale": {"domain": [6, 10.8], "nice": false, "zero": false}, "axis": {"orient": "left", "values": [6, 8, 10], "title": null}},
            "color": {
              "field": "c", "type": "nominal",
              "scale": {
                "domain": ["Ga","Ra","Ba","Ka","G1","G2","G3","G4","G5","G6","G7","G8","G9","R1","R2","R3","R4","R5","R6","R7","R8","R9","B1","B2","B3","B4","B5","B6","B7","B8","B9","K1","K2","K3","K4","K5","K6","K7","K8","K9"],
                "range": ["#2e9c48","#e4211c","#3a87c7","#555555","#00441b","#006d2c","#238b45","#41ab5d","#74c476","#a1d99b","#c7e9c0","#e5f5e0","#f7fcf5","#67000d","#a50f15","#cb181d","#ef3b2c","#fb6a4a","#fc9272","#fcbba1","#fee0d2","#fff5f0","#08306b","#08519c","#2171b5","#4292c6","#6baed6","#9ecae1","#c6dbef","#deebf7","#f7fbff","#000000","#252525","#525252","#737373","#969696","#bdbdbd","#d9d9d9","#f0f0f0","#ffffff"]
              }
            }
          }
        },
        {
          "data": {"name": "radius"},
          "mark": {"type": "point", "opacity": 0, "size": 0},
          "encoding": {
            "x": {"field": "t", "type": "quantitative", "axis": {"orient": "top", "values": [0, 200, 400, 600, 800, 1000, 1200, 1400], "labels": false, "title": null}},
            "y": {"field": "r", "type": "quantitative", "axis": {"orient": "right", "values": [6, 8, 10], "labels": false, "title": null}}
          }
        },
        {
          "data": {"values": [{}]},
          "mark": {"type": "text", "text": "R (R", "angle": 270, "align": "right", "baseline": "alphabetic", "fontSize": 18},
          "encoding": {"x": {"datum": -83, "type": "quantitative", "axis": null}, "y": {"datum": 8.91, "type": "quantitative", "axis": null}}
        },
        {
          "data": {"values": [{}]},
          "mark": {"type": "text", "text": "E", "angle": 270, "align": "left", "baseline": "alphabetic", "fontSize": 13, "dy": 4},
          "encoding": {"x": {"datum": -83, "type": "quantitative", "axis": null}, "y": {"datum": 8.91, "type": "quantitative", "axis": null}}
        },
        {
          "data": {"values": [{}]},
          "mark": {"type": "text", "text": ")", "angle": 270, "align": "left", "baseline": "alphabetic", "fontSize": 18, "dx": 8.7},
          "encoding": {"x": {"datum": -83, "type": "quantitative", "axis": null}, "y": {"datum": 8.91, "type": "quantitative", "axis": null}}
        },
        {
          "data": {"values": [{}]},
          "mark": {"type": "text", "text": "(a)", "align": "right", "baseline": "top", "fontSize": 15, "dx": -4, "dy": 2},
          "encoding": {"x": {"datum": 1400, "type": "quantitative", "axis": null}, "y": {"datum": 10.8, "type": "quantitative", "axis": null}}
        }
      ],
      "resolve": {"axis": {"x": "independent", "y": "independent"}}
    },
    {
      "width": 724,
      "height": 144,
      "layer": [
        {
          "data": {"name": "modes"},
          "mark": {"type": "line", "strokeWidth": 1.3, "interpolate": "monotone"},
          "encoding": {
            "x": {"field": "t", "type": "quantitative", "scale": {"domain": [0, 1400], "nice": false, "zero": false}, "axis": {"orient": "bottom", "values": [0, 200, 400, 600, 800, 1000, 1200, 1400], "labels": false, "title": null}},
            "y": {"field": "y", "type": "quantitative", "scale": {"domain": [-4.02, 1.07], "nice": false, "zero": false}, "axis": {"orient": "left", "values": [0, -1, -2, -3], "labels": false, "title": null}},
            "color": {"field": "c", "type": "nominal"},
            "detail": {"field": "id"}
          }
        },
        {
          "data": {"name": "modes"},
          "mark": {"type": "point", "opacity": 0, "size": 0},
          "encoding": {
            "x": {"field": "t", "type": "quantitative", "axis": {"orient": "top", "values": [0, 200, 400, 600, 800, 1000, 1200, 1400], "labels": false, "title": null}},
            "y": {"field": "y", "type": "quantitative", "axis": {"orient": "right", "values": [0, -1, -2, -3], "labelExpr": "datum.value == 0 ? 'I' : datum.value == -1 ? 'II' : datum.value == -2 ? 'III' : 'IV'", "labelAlign": "left", "title": "Empirical Modes", "titleAngle": 270, "titleBaseline": "top", "titlePadding": 3}}
          }
        },
        {
          "data": {"values": [{}]},
          "mark": {"type": "rule", "color": "#333333", "strokeWidth": 1.2},
          "encoding": {"x": {"datum": 500, "type": "quantitative", "axis": null}, "y": {"datum": -2.53, "type": "quantitative", "axis": null}, "y2": {"datum": -3.53}}
        },
        {
          "data": {"values": [{}]},
          "mark": {"type": "rule", "color": "#333333", "strokeWidth": 1.2},
          "encoding": {"x": {"datum": 491, "type": "quantitative", "axis": null}, "x2": {"datum": 509}, "y": {"datum": -2.53, "type": "quantitative", "axis": null}}
        },
        {
          "data": {"values": [{}]},
          "mark": {"type": "rule", "color": "#333333", "strokeWidth": 1.2},
          "encoding": {"x": {"datum": 491, "type": "quantitative", "axis": null}, "x2": {"datum": 509}, "y": {"datum": -3.53, "type": "quantitative", "axis": null}}
        },
        {
          "data": {"values": [{}]},
          "mark": {"type": "text", "text": "1 R", "align": "left", "baseline": "alphabetic", "fontSize": 16},
          "encoding": {"x": {"datum": 511, "type": "quantitative", "axis": null}, "y": {"datum": -3.03, "type": "quantitative", "axis": null}}
        },
        {
          "data": {"values": [{}]},
          "mark": {"type": "text", "text": "E", "align": "left", "baseline": "alphabetic", "fontSize": 13, "dx": 24.9, "dy": 5},
          "encoding": {"x": {"datum": 511, "type": "quantitative", "axis": null}, "y": {"datum": -3.03, "type": "quantitative", "axis": null}}
        },
        {
          "data": {"values": [{}]},
          "mark": {"type": "text", "text": "(b)", "align": "right", "baseline": "top", "fontSize": 15, "dx": -4, "dy": 2},
          "encoding": {"x": {"datum": 1400, "type": "quantitative", "axis": null}, "y": {"datum": 1.07, "type": "quantitative", "axis": null}}
        }
      ],
      "resolve": {"axis": {"x": "independent", "y": "independent"}}
    },
    {
      "width": 724,
      "height": 195,
      "layer": [
        {
          "layer": [
            {
              "data": {"name": "faint"},
              "mark": {"type": "line", "strokeWidth": 2.6, "clip": true, "opacity": 0.6},
              "encoding": {
                "x": {"field": "t", "type": "quantitative", "scale": {"domain": [0, 1400], "nice": false, "zero": false}, "axis": null},
                "y": {"field": "f", "type": "quantitative", "scale": {"domain": [0, 15], "nice": false, "zero": false}, "axis": null},
                "color": {"field": "c", "type": "nominal"},
                "detail": {"field": "id"}
              }
            },
            {
              "data": {"name": "finst"},
              "mark": {"type": "line", "strokeWidth": 2.8, "clip": true, "interpolate": "monotone"},
              "encoding": {
                "x": {"field": "t", "type": "quantitative", "axis": {"orient": "bottom", "values": [0, 200, 400, 600, 800, 1000, 1200, 1400], "format": "d", "title": "Time (s)", "titlePadding": 3}},
                "y": {"field": "f", "type": "quantitative", "axis": {"orient": "left", "values": [0, 5, 10, 15], "title": null}},
                "color": {"field": "c", "type": "nominal"},
                "detail": {"field": "id"}
              }
            },
            {
              "data": {"name": "finst"},
              "mark": {"type": "point", "opacity": 0, "size": 0},
              "encoding": {
                "x": {"field": "t", "type": "quantitative", "axis": {"orient": "top", "values": [0, 200, 400, 600, 800, 1000, 1200, 1400], "labels": false, "title": null}},
                "y": {"field": "f", "type": "quantitative", "axis": {"orient": "right", "values": [0, 5, 10, 15], "labels": false, "title": null}}
              }
            },
            {
              "data": {"values": [{}]},
              "mark": {"type": "text", "text": "f", "angle": 270, "align": "right", "baseline": "alphabetic", "fontSize": 18},
              "encoding": {"x": {"datum": -83, "type": "quantitative", "axis": null}, "y": {"datum": 4.0, "type": "quantitative", "axis": null}}
            },
            {
              "data": {"values": [{}]},
              "mark": {"type": "text", "text": "inst", "angle": 270, "align": "left", "baseline": "alphabetic", "fontSize": 14, "dy": 5},
              "encoding": {"x": {"datum": -83, "type": "quantitative", "axis": null}, "y": {"datum": 4.0, "type": "quantitative", "axis": null}}
            },
            {
              "data": {"values": [{}]},
              "mark": {"type": "text", "text": "(mHz)", "angle": 270, "align": "left", "baseline": "alphabetic", "fontSize": 18, "dx": 27},
              "encoding": {"x": {"datum": -83, "type": "quantitative", "axis": null}, "y": {"datum": 4.0, "type": "quantitative", "axis": null}}
            },
            {
              "data": {"values": [{}]},
              "mark": {"type": "text", "text": "(c)", "align": "right", "baseline": "top", "fontSize": 15, "dx": -4, "dy": 2},
              "encoding": {"x": {"datum": 1400, "type": "quantitative", "axis": null}, "y": {"datum": 15, "type": "quantitative", "axis": null}}
            }
          ],
          "resolve": {"axis": {"x": "independent", "y": "independent"}}
        },
        {
          "layer": [
            {
              "data": {"name": "legend"},
              "mark": {"type": "rect"},
              "encoding": {
                "x": {"field": "i0", "type": "quantitative", "scale": {"domain": [-44.29, 7.43], "nice": false, "zero": false}, "axis": null},
                "x2": {"field": "i1"},
                "y": {"field": "a0", "type": "quantitative", "scale": {"type": "log", "domain": [0.02065, 2.042], "nice": false}, "axis": null},
                "y2": {"field": "a1"},
                "color": {"field": "c", "type": "nominal"}
              }
            },
            {
              "data": {"values": [{}]},
              "mark": {"type": "rect", "fill": null, "fillOpacity": 0, "stroke": "#333333", "strokeWidth": 1},
              "encoding": {"x": {"datum": 0, "type": "quantitative", "axis": null}, "x2": {"datum": 4}, "y": {"datum": 0.0418, "type": "quantitative", "axis": null}, "y2": {"datum": 1.216}}
            },
            {
              "data": {"name": "lticks"},
              "transform": [{"filter": {"field": "kind", "equal": "minor"}}],
              "mark": {"type": "rule", "color": "#333333", "strokeWidth": 1},
              "encoding": {"x": {"datum": -0.3, "type": "quantitative", "axis": null}, "x2": {"datum": 0}, "y": {"field": "a", "type": "quantitative", "axis": null}}
            },
            {
              "data": {"name": "lticks"},
              "transform": [{"filter": {"field": "kind", "equal": "minor"}}],
              "mark": {"type": "rule", "color": "#333333", "strokeWidth": 1},
              "encoding": {"x": {"datum": 4, "type": "quantitative", "axis": null}, "x2": {"datum": 4.3}, "y": {"field": "a", "type": "quantitative", "axis": null}}
            },
            {
              "data": {"name": "lticks"},
              "transform": [{"filter": {"field": "kind", "equal": "major"}}],
              "mark": {"type": "rule", "color": "#333333", "strokeWidth": 1},
              "encoding": {"x": {"datum": -0.6, "type": "quantitative", "axis": null}, "x2": {"datum": 0}, "y": {"field": "a", "type": "quantitative", "axis": null}}
            },
            {
              "data": {"name": "lticks"},
              "transform": [{"filter": {"field": "kind", "equal": "major"}}],
              "mark": {"type": "rule", "color": "#333333", "strokeWidth": 1},
              "encoding": {"x": {"datum": 4, "type": "quantitative", "axis": null}, "x2": {"datum": 4.55}, "y": {"field": "a", "type": "quantitative", "axis": null}}
            },
            {
              "data": {"name": "lcols"},
              "mark": {"type": "rule", "color": "#333333", "strokeWidth": 1},
              "encoding": {"x": {"field": "pos", "type": "quantitative", "axis": null}, "y": {"datum": 1.216, "type": "quantitative", "axis": null}, "y2": {"datum": 1.33}}
            },
            {
              "data": {"name": "lcols"},
              "mark": {"type": "rule", "color": "#333333", "strokeWidth": 1},
              "encoding": {"x": {"field": "pos", "type": "quantitative", "axis": null}, "y": {"datum": 0.0418, "type": "quantitative", "axis": null}, "y2": {"datum": 0.0382}}
            },
            {
              "data": {"name": "lcols"},
              "mark": {"type": "text", "align": "center", "baseline": "middle", "fontSize": 11, "color": "#333333"},
              "encoding": {"x": {"field": "pos", "type": "quantitative", "axis": null}, "y": {"datum": 0.0323, "type": "quantitative", "axis": null}, "text": {"field": "shock"}}
            },
            {
              "data": {"values": [{}]},
              "mark": {"type": "text", "text": "Shock", "align": "center", "baseline": "middle", "fontSize": 12, "color": "#333333"},
              "encoding": {"x": {"datum": 2, "type": "quantitative", "axis": null}, "y": {"datum": 0.0249, "type": "quantitative", "axis": null}}
            },
            {
              "data": {"values": [{}]},
              "mark": {"type": "text", "text": "10", "align": "left", "baseline": "middle", "fontSize": 11, "color": "#333333"},
              "encoding": {"x": {"datum": 4.64, "type": "quantitative", "axis": null}, "y": {"datum": 1.0, "type": "quantitative", "axis": null}}
            },
            {
              "data": {"values": [{}]},
              "mark": {"type": "text", "text": "0", "align": "left", "baseline": "middle", "fontSize": 8, "dx": 12.5, "dy": -5, "color": "#333333"},
              "encoding": {"x": {"datum": 4.64, "type": "quantitative", "axis": null}, "y": {"datum": 1.0, "type": "quantitative", "axis": null}}
            },
            {
              "data": {"values": [{}]},
              "mark": {"type": "text", "text": "10", "align": "left", "baseline": "middle", "fontSize": 11, "color": "#333333"},
              "encoding": {"x": {"datum": 4.64, "type": "quantitative", "axis": null}, "y": {"datum": 0.1, "type": "quantitative", "axis": null}}
            },
            {
              "data": {"values": [{}]},
              "mark": {"type": "text", "text": "-1", "align": "left", "baseline": "middle", "fontSize": 8, "dx": 12.5, "dy": -5, "color": "#333333"},
              "encoding": {"x": {"datum": 4.64, "type": "quantitative", "axis": null}, "y": {"datum": 0.1, "type": "quantitative", "axis": null}}
            },
            {
              "data": {"values": [{}]},
              "mark": {"type": "text", "text": "A", "angle": 270, "align": "left", "baseline": "alphabetic", "fontSize": 12, "dx": -23.5, "color": "#333333"},
              "encoding": {"x": {"datum": 6.93, "type": "quantitative", "axis": null}, "y": {"datum": 0.2228, "type": "quantitative", "axis": null}}
            },
            {
              "data": {"values": [{}]},
              "mark": {"type": "text", "text": "inst", "angle": 270, "align": "left", "baseline": "alphabetic", "fontSize": 8, "dx": -15.3, "dy": 3, "color": "#333333"},
              "encoding": {"x": {"datum": 6.93, "type": "quantitative", "axis": null}, "y": {"datum": 0.2228, "type": "quantitative", "axis": null}}
            },
            {
              "data": {"values": [{}]},
              "mark": {"type": "text", "text": "(R", "angle": 270, "align": "left", "baseline": "alphabetic", "fontSize": 12, "dx": 0.2, "color": "#333333"},
              "encoding": {"x": {"datum": 6.93, "type": "quantitative", "axis": null}, "y": {"datum": 0.2228, "type": "quantitative", "axis": null}}
            },
            {
              "data": {"values": [{}]},
              "mark": {"type": "text", "text": "E", "angle": 270, "align": "left", "baseline": "alphabetic", "fontSize": 8, "dx": 13.4, "dy": 3, "color": "#333333"},
              "encoding": {"x": {"datum": 6.93, "type": "quantitative", "axis": null}, "y": {"datum": 0.2228, "type": "quantitative", "axis": null}}
            },
            {
              "data": {"values": [{}]},
              "mark": {"type": "text", "text": ")", "angle": 270, "align": "left", "baseline": "alphabetic", "fontSize": 12, "dx": 18.9, "color": "#333333"},
              "encoding": {"x": {"datum": 6.93, "type": "quantitative", "axis": null}, "y": {"datum": 0.2228, "type": "quantitative", "axis": null}}
            }
          ]
        }
      ],
      "resolve": {"scale": {"x": "independent", "y": "independent"}}
    }
  ]
}
